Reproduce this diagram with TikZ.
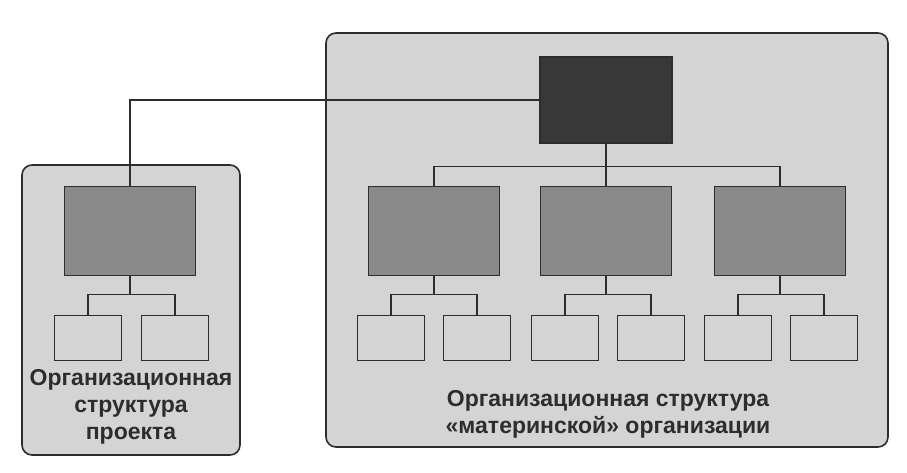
\documentclass[tikz,border=0pt]{standalone}
\usepackage{fontspec}
\setmainfont{Liberation Sans}
\usetikzlibrary{calc}
\definecolor{panelgray}{RGB}{212,212,212}
\definecolor{unitgray}{RGB}{138,138,138}
\definecolor{headgray}{RGB}{56,56,56}
\definecolor{inkgray}{RGB}{45,45,45}

\begin{document}
\begin{tikzpicture}[x=1pt, y=-1pt,
  panel/.style={draw=inkgray, line width=1.6pt, fill=panelgray,
                rounded corners=10pt, inner sep=0pt},
  headbox/.style={draw=inkgray, line width=1.6pt, fill=headgray,
                  minimum width=132pt, minimum height=86pt, inner sep=0pt},
  unitbox/.style={draw=inkgray, line width=1.6pt, fill=unitgray,
                  minimum width=131pt, minimum height=89pt, inner sep=0pt},
  leafbox/.style={draw=inkgray, line width=1.6pt, fill=panelgray,
                  minimum width=67pt, minimum height=45pt, inner sep=0pt},
  caption/.style={font=\bfseries\fontsize{23}{27}\selectfont,
                  text=inkgray, align=center},
  link/.style={draw=inkgray, line width=1.4pt}
]
  \useasboundingbox (0,0) rectangle (907,473);

  % the two frames
  \node[panel, minimum width=562pt, minimum height=414pt] (parent)  at (607,240) {};
  \node[panel, minimum width=218pt, minimum height=290pt] (project) at (131,310) {};

  % parent organisation
  \node[headbox] (head) at (606,100) {};
  \node[unitbox] (u1) at (434,231) {};
  \node[unitbox] (u2) at (606,231) {};
  \node[unitbox] (u3) at (780,231) {};
  \node[leafbox] (l11) at (391,338) {};
  \node[leafbox] (l12) at (477,338) {};
  \node[leafbox] (l21) at (565,338) {};
  \node[leafbox] (l22) at (651,338) {};
  \node[leafbox] (l31) at (738,338) {};
  \node[leafbox] (l32) at (824,338) {};

  % project
  \node[unitbox] (phead) at (130,231) {};
  \node[leafbox] (pl1) at (88,338)  {};
  \node[leafbox] (pl2) at (175,338) {};

  \draw[link] (head.south) -- ++(0,23) coordinate (hbus);
  \draw[link] (u1.north) |- (hbus) -| (u3.north);
  \draw[link] (hbus) -- (u2.north);

  \draw[link] (u1.south) -- ++(0,18) coordinate (b1);
  \draw[link] (l11.north) |- (b1) -| (l12.north);
  \draw[link] (u2.south) -- ++(0,18) coordinate (b2);
  \draw[link] (l21.north) |- (b2) -| (l22.north);
  \draw[link] (u3.south) -- ++(0,18) coordinate (b3);
  \draw[link] (l31.north) |- (b3) -| (l32.north);

  \draw[link] (phead.south) -- ++(0,18) coordinate (pb);
  \draw[link] (pl1.north) |- (pb) -| (pl2.north);

  \draw[link] (head.west) -| (phead.north);

  \node[caption] (ptext) at (131,407) {Организационная\\структура\\проекта};
  \node[caption] (otext) at (608,414) {Организационная структура\\«материнской» организации};
\end{tikzpicture}
\end{document}
